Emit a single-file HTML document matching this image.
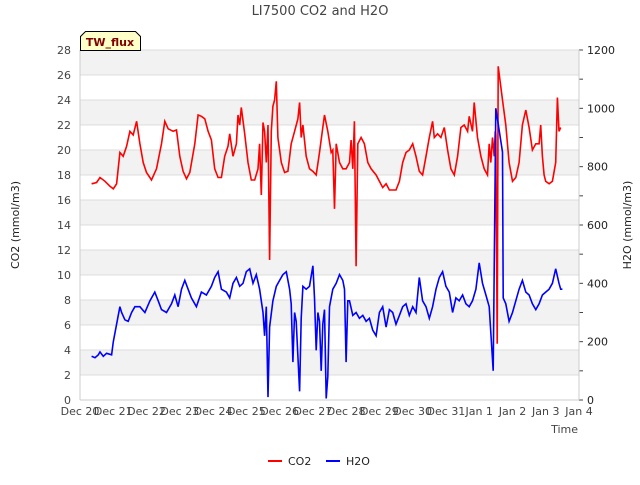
<!DOCTYPE html>
<html><head><meta charset="utf-8"><style>
body{margin:0;background:#fff;font-family:"Liberation Sans","DejaVu Sans",sans-serif;}
svg text{font-family:"DejaVu Sans","Liberation Sans",sans-serif;}
</style></head><body>
<svg id="c" width="640" height="480" xmlns="http://www.w3.org/2000/svg">
<text x="320" y="15" text-anchor="middle" font-size="13" fill="#444">LI7500 CO2 and H2O</text>
<g id="bands"></g><g id="axes"></g><g id="series"></g>
<g>
<path d="M80.5,50.5 L80.5,36.5 L85.5,31.5 L135.5,31.5 L140.5,36.5 L140.5,50.5 Z" fill="#ffffc8" stroke="#000" stroke-width="1"/>
<text x="110" y="46" text-anchor="middle" font-size="11" font-weight="bold" fill="#800000">TW_flux</text></g>
<text x="19" y="225" transform="rotate(-90 19 225)" text-anchor="middle" font-size="11" fill="#222">CO2 (mmol/m3)</text>
<text x="631" y="225" transform="rotate(-90 631 225)" text-anchor="middle" font-size="11" fill="#222">H2O (mmol/m3)</text>
<text x="578" y="433" text-anchor="end" font-size="11" fill="#444">Time</text>
<g>
<line x1="268" y1="461" x2="282" y2="461" stroke="#f00" stroke-width="2"/><text x="288" y="465" font-size="11" fill="#222">CO2</text>
<line x1="326" y1="461" x2="340" y2="461" stroke="#00f" stroke-width="2"/><text x="346" y="465" font-size="11" fill="#222">H2O</text></g>
</svg>
<script>
const xTicks=["Dec 20","Dec 21","Dec 22","Dec 23","Dec 24","Dec 25","Dec 26","Dec 27","Dec 28","Dec 29","Dec 30","Dec 31","Jan 1","Jan 2","Jan 3","Jan 4"];
const yLeftTicks=[0,2,4,6,8,10,12,14,16,18,20,22,24,26,28];
const yRightTicks=[0,200,400,600,800,1000,1200];
const co2Days=[0.35,0.5,0.6,0.75,0.9,1.0,1.1,1.2,1.3,1.4,1.5,1.6,1.7,1.8,1.9,2.0,2.15,2.3,2.45,2.55,2.65,2.8,2.9,3.0,3.1,3.2,3.3,3.45,3.55,3.65,3.75,3.85,3.95,4.05,4.15,4.25,4.35,4.45,4.5,4.6,4.7,4.75,4.8,4.85,4.95,5.05,5.15,5.25,5.35,5.4,5.45,5.5,5.55,5.6,5.65,5.7,5.75,5.8,5.85,5.9,5.95,6.05,6.15,6.25,6.35,6.45,6.55,6.6,6.65,6.7,6.8,6.9,7.0,7.1,7.2,7.3,7.35,7.45,7.55,7.6,7.65,7.7,7.8,7.9,8.0,8.1,8.15,8.2,8.25,8.3,8.35,8.45,8.55,8.65,8.75,8.9,9.0,9.1,9.2,9.3,9.5,9.6,9.7,9.8,9.9,10.0,10.1,10.2,10.3,10.4,10.5,10.6,10.65,10.75,10.85,10.95,11.05,11.15,11.25,11.35,11.45,11.55,11.65,11.7,11.8,11.85,11.95,12.05,12.15,12.25,12.3,12.35,12.4,12.45,12.48,12.5,12.54,12.57,12.7,12.8,12.9,13.0,13.1,13.2,13.3,13.4,13.5,13.6,13.7,13.8,13.85,13.9,13.95,14.0,14.1,14.2,14.3,14.35,14.4,14.45,14.5];
const co2Values=[17.3,17.4,17.8,17.5,17.1,16.9,17.3,19.8,19.5,20.3,21.5,21.2,22.3,20.5,19,18.2,17.6,18.5,20.5,22.3,21.7,21.5,21.6,19.5,18.3,17.7,18.2,20.5,22.8,22.7,22.5,21.5,20.8,18.5,17.8,17.8,19.5,20.3,21.3,19.5,20.5,22.8,22.0,23.4,21.3,19.0,17.6,17.6,18.5,20.5,16.4,22.2,21.5,19.0,22.0,11.2,21.5,23.5,24.0,25.5,21.0,19.0,18.2,18.3,20.5,21.5,22.5,23.8,21.0,22.0,19.5,18.5,18.3,18.0,19.8,21.8,22.8,21.5,19.8,20.0,15.3,20.5,19.0,18.5,18.5,19.0,20.8,18.5,22.3,10.7,20.5,21.0,20.5,19.0,18.5,18.0,17.5,17.0,17.3,16.8,16.8,17.5,19.0,19.8,20.0,20.5,19.5,18.3,18.0,19.5,21.0,22.3,21.0,21.3,21.0,21.8,20.0,18.5,18.0,19.5,21.8,22.0,21.5,22.7,21.5,23.8,21.0,19.5,18.5,18.0,20.5,19.0,21.0,19.5,21.5,21.2,4.5,26.7,24.0,22.0,19.0,17.5,17.8,19.0,22.0,23.2,21.8,20.0,20.5,20.5,22.0,19.5,18.0,17.5,17.3,17.5,19.0,24.2,21.5,21.8];
const h2oDays=[0.35,0.45,0.55,0.6,0.7,0.8,0.95,1.0,1.1,1.2,1.25,1.35,1.45,1.55,1.65,1.8,1.95,2.1,2.25,2.35,2.45,2.6,2.75,2.85,2.95,3.05,3.15,3.25,3.35,3.5,3.65,3.8,3.95,4.05,4.15,4.25,4.4,4.5,4.6,4.7,4.8,4.9,5.0,5.1,5.2,5.3,5.4,5.5,5.55,5.6,5.65,5.7,5.8,5.9,6.0,6.1,6.2,6.3,6.35,6.4,6.45,6.5,6.55,6.6,6.65,6.7,6.8,6.9,7.0,7.05,7.1,7.15,7.2,7.25,7.3,7.35,7.4,7.45,7.5,7.6,7.7,7.8,7.9,7.95,8.0,8.05,8.1,8.2,8.3,8.4,8.5,8.6,8.7,8.8,8.9,9.0,9.1,9.2,9.3,9.4,9.5,9.6,9.7,9.8,9.9,10.0,10.1,10.2,10.3,10.4,10.5,10.6,10.7,10.8,10.9,11.0,11.1,11.2,11.3,11.4,11.5,11.6,11.7,11.8,11.9,12.0,12.1,12.2,12.3,12.42,12.5,12.7,12.72,12.8,12.9,13.0,13.1,13.2,13.3,13.4,13.5,13.6,13.7,13.8,13.9,14.0,14.1,14.2,14.3,14.4,14.45,14.5];
const h2oValues=[150,145,155,165,150,160,155,200,260,320,300,275,270,300,320,320,300,340,370,340,310,300,330,360,320,380,410,380,350,320,370,360,390,420,440,380,370,350,400,420,390,400,440,450,400,430,380,300,220,320,10,250,340,390,410,430,440,380,330,130,300,270,150,30,280,390,380,390,460,350,170,300,270,100,260,310,5,80,320,380,400,430,410,380,130,340,340,290,300,280,290,270,280,240,220,300,320,250,310,300,260,290,320,330,290,320,300,420,340,320,280,320,380,420,440,390,370,300,350,340,360,330,320,340,380,470,400,360,320,100,1000,850,350,330,270,300,340,380,410,370,360,330,310,330,360,370,380,400,450,400,380,380];
const NS="http://www.w3.org/2000/svg";
const X0=80,X1=579,Y0=400,Y1=50;
const xs=d=>X0+(X1-X0)*d/15;
const yl=v=>Y0-(Y0-Y1)*v/28;
const yr=v=>Y0-(Y0-Y1)*v/1200;
function mk(tag,attrs,parent,txt){const e=document.createElementNS(NS,tag);for(const k in attrs)e.setAttribute(k,attrs[k]);if(txt!==undefined)e.textContent=txt;parent.appendChild(e);return e;}
const bands=document.getElementById('bands'),axes=document.getElementById('axes'),series=document.getElementById('series');
for(let v=2;v<28;v+=4){const r=mk('rect',{x:X0,y:yl(v+2),width:X1-X0,height:yl(v)-yl(v+2),fill:'#f2f2f2'},bands);

}
yLeftTicks.forEach(v=>{const l=mk('line',{x1:X0,x2:X1,y1:yl(v),y2:yl(v),stroke:'#dcdcdc','stroke-width':1},bands);


const t=mk('text',{x:71,y:yl(v)+4,'text-anchor':'end','font-size':11,fill:'#444'},axes,v);

});
yRightTicks.forEach(v=>{const t=mk('text',{x:587,y:yr(v)+4,'font-size':11,fill:'#222'},axes,v);


mk('line',{x1:X1,x2:X1+4,y1:yr(v),y2:yr(v),stroke:'#444'},axes);
if(v<1200)mk('line',{x1:X1,x2:X1+4,y1:yr(v+100),y2:yr(v+100),stroke:'#444'},axes);});
xTicks.forEach((s,i)=>{const t=mk('text',{x:xs(i),y:415,'text-anchor':'middle','font-size':11,fill:'#444'},axes,s);

});
mk('line',{x1:X0,x2:X0,y1:Y1,y2:Y0,stroke:'#ccc'},axes);
mk('line',{x1:X1,x2:X1,y1:Y1,y2:Y0,stroke:'#ccc'},axes);
mk('line',{x1:X0,x2:X1,y1:Y0,y2:Y0,stroke:'#ccc'},axes);
const pc=mk('polyline',{points:co2Days.map((d,i)=>xs(d).toFixed(1)+','+yl(co2Values[i]).toFixed(1)).join(' '),fill:'none',stroke:'#f00','stroke-width':1.6},series);


const ph=mk('polyline',{points:h2oDays.map((d,i)=>xs(d).toFixed(1)+','+yr(h2oValues[i]).toFixed(1)).join(' '),fill:'none',stroke:'#00f','stroke-width':1.6},series);


</script>
</body></html>
